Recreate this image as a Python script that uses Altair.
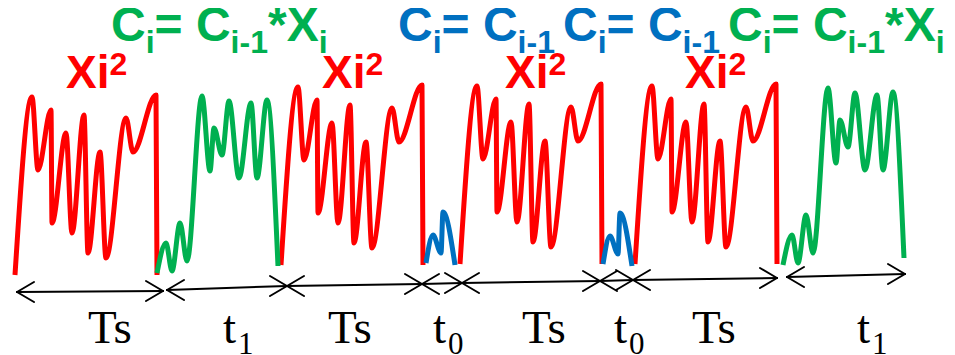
import altair as alt
import pandas as pd

# ---- waveform shapes (dx from segment start, y measured downward in px) ----
red_dx = [0, 17, 23, 36, 37, 51, 57, 69, 73, 85, 91, 111, 118, 141, 142]
red_y = [265, 87, 160, 100, 213, 123, 223, 105, 243, 142, 248, 108, 142, 85, 265]
green_dx = [0, 9, 15, 23, 30, 45, 53, 57, 65, 72, 82, 94, 100, 110, 121]
green_y = [265, 235, 263, 215, 253, 88, 163, 120, 147, 93, 170, 95, 170, 92, 258]
blue_dx = [0, 7, 15, 17, 29]
blue_y = [263, 235, 253, 212, 265]

# where each copy of a waveform starts, and its vertical shift
red_start = [15, 281, 460, 635]
red_shift = [10, 0, -1, -1]
green_start = [157, 783]
green_shift = [8, 0]
blue_start = [426, 603]
blue_shift = [0, 1]

RED, GREEN, BLUE = "#FF0000", "#00B050", "#0070C0"

# ---- time axis arrows ----
arrow_x1 = [17, 167, 287, 422, 462, 600, 633, 787]
arrow_y1 = [292, 290, 286, 284, 283, 281, 280, 277]
arrow_x2 = [163, 287, 422, 462, 600, 633, 777, 905]
arrow_y2 = [291, 286, 284, 283, 281, 280, 278, 274]

# ---- labels ----
xi_x = [66, 322, 505, 685]
eq_x = [111, 398, 563, 728]
eq_kind = ["mult", "copy", "copy", "mult"]
eq_color = [GREEN, BLUE, BLUE, GREEN]

seg_label = ["Ts", "t", "Ts", "t", "Ts", "t", "Ts", "t"]
seg_sub = ["", "1", "", "0", "", "0", "", "1"]
seg_label_x = [88, 223, 328, 433, 522, 614, 692, 857]

# ---------------------------------------------------------------
rows = []
sid = 0
for starts, shifts, dxs, ys, col in [
    (red_start, red_shift, red_dx, red_y, RED),
    (green_start, green_shift, green_dx, green_y, GREEN),
    (blue_start, blue_shift, blue_dx, blue_y, BLUE),
]:
    for s, sh in zip(starts, shifts):
        for dx, y in zip(dxs, ys):
            rows.append({"seg": sid, "x": s + dx, "y": y + sh, "color": col})
        sid += 1
wave = pd.DataFrame(rows)

HL, HH = 17, 10
rule_rows = []
for x1, y1, x2, y2 in zip(arrow_x1, arrow_y1, arrow_x2, arrow_y2):
    rule_rows.append({"x": x1, "y": y1, "x2": x2, "y2": y2})
    for d in (-1, 1):
        rule_rows.append({"x": x1 + HL, "y": y1 + d * HH, "x2": x1, "y2": y1})
        rule_rows.append({"x": x2 - HL, "y": y2 + d * HH, "x2": x2, "y2": y2})
rules = pd.DataFrame(rule_rows)

sans_rows = []
for x in xi_x:
    sans_rows.append({"x": x, "y": 88, "t": "Xi", "size": 46, "color": RED})
    sans_rows.append({"x": x + 43.5, "y": 75, "t": "2", "size": 32, "color": RED})
for x0, kind, col in zip(eq_x, eq_kind, eq_color):
    sans_rows.append({"x": x0, "y": 41, "t": "C", "size": 48, "color": col})
    sans_rows.append({"x": x0 + 34.7, "y": 53, "t": "i", "size": 32, "color": col})
    sans_rows.append({"x": x0 + 43.6, "y": 41, "t": "= C", "size": 48, "color": col})
    sans_rows.append({"x": x0 + 119.6, "y": 53, "t": "i-1", "size": 32, "color": col})
    if kind == "mult":
        sans_rows.append({"x": x0 + 157.0, "y": 41, "t": "*X", "size": 48, "color": col})
        sans_rows.append({"x": x0 + 207.7, "y": 53, "t": "i", "size": 32, "color": col})
sans = pd.DataFrame(sans_rows)

serif_rows = []
for lab, sub, x in zip(seg_label, seg_sub, seg_label_x):
    serif_rows.append({"x": x, "y": 343, "t": lab, "size": 47})
    if sub:
        serif_rows.append({"x": x + 15, "y": 354, "t": sub, "size": 31})
serif = pd.DataFrame(serif_rows)

xs = alt.Scale(domain=[8, 947], nice=False, zero=False)
ys = alt.Scale(domain=[8, 360], nice=False, zero=False, reverse=True)

lines = alt.Chart(wave).mark_line(
    strokeWidth=5, interpolate="monotone", strokeCap="butt", strokeJoin="round"
).encode(
    x=alt.X("x:Q", scale=xs, axis=None),
    y=alt.Y("y:Q", scale=ys, axis=None),
    color=alt.Color("color:N", scale=None),
    detail="seg:N",
)

arrows = alt.Chart(rules).mark_rule(color="black", strokeWidth=2, strokeCap="round").encode(
    x=alt.X("x:Q", scale=xs, axis=None),
    y=alt.Y("y:Q", scale=ys, axis=None),
    x2="x2:Q",
    y2="y2:Q",
)

sans_text = alt.Chart(sans).mark_text(
    align="left", baseline="alphabetic", font="Liberation Sans", fontWeight="bold"
).encode(
    x=alt.X("x:Q", scale=xs, axis=None),
    y=alt.Y("y:Q", scale=ys, axis=None),
    text="t:N",
    size=alt.Size("size:Q", scale=None),
    color=alt.Color("color:N", scale=None),
)

serif_text = alt.Chart(serif).mark_text(
    align="left", baseline="alphabetic", font="Liberation Serif", color="black"
).encode(
    x=alt.X("x:Q", scale=xs, axis=None),
    y=alt.Y("y:Q", scale=ys, axis=None),
    text="t:N",
    size=alt.Size("size:Q", scale=None),
)

chart = alt.layer(lines, arrows, sans_text, serif_text).properties(
    width=939, height=352, padding=0,
    autosize=alt.AutoSizeParams(type="none"),
).configure_view(stroke=None)

chart.save("out.html", embed_options={"renderer": "svg", "actions": False})
